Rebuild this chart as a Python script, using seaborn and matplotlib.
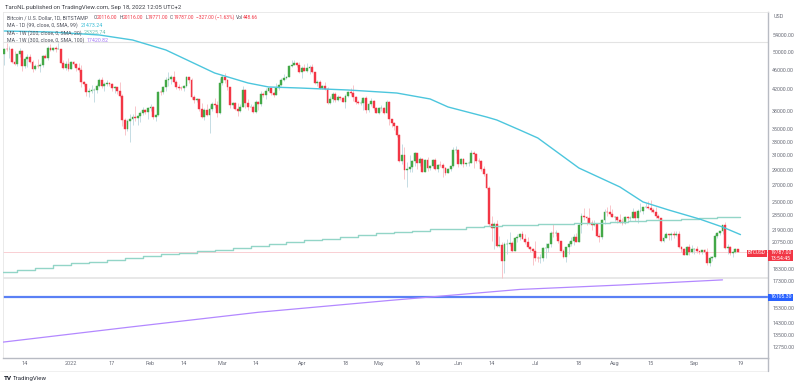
import numpy as np
import pandas as pd
import matplotlib
matplotlib.use("Agg")
import matplotlib.pyplot as plt
from matplotlib.patches import Rectangle
from matplotlib.ticker import NullLocator
import seaborn as sns

# ---------------- data ----------------
start_date = "2021-12-06"
first_open = 49400

close = [
    # Dec 2021 (6..31)
    50580, 50500, 50600, 47600, 47150, 49350, 50100, 46700, 48350, 48850, 47650, 46200, 46850,
    46700, 46900, 48950, 48600, 50800, 50400, 50800, 50700, 50700, 47550, 46450, 47150, 46200,
    # Jan 2022
    47700, 47300, 46450, 45850, 43450, 43100, 41550, 41700, 41850, 41850, 42750, 43900, 42600,
    43100, 43200, 43100, 42200, 42400, 41700, 40700, 36450, 35050, 36300, 36650, 36950, 36850,
    37200, 37700, 38150, 37900, 38500,
    # Feb
    38700, 36900, 37300, 41550, 41400, 42400, 43850, 44050, 44400, 43550, 42400, 42250, 42200,
    42600, 44550, 43900, 40550, 40000, 40100, 38400, 37000, 38250, 37250, 38350, 39250, 39150,
    37700, 43200,
    # Mar
    44400, 43900, 42450, 39150, 39400, 38400, 37980, 38750, 41950, 39400, 38750, 38800, 37800,
    39650, 39300, 41100, 40900, 41750, 42200, 41250, 41000, 42350, 42850, 43950, 44300, 44500,
    46800, 47100, 47450, 47050, 45500,
    # Apr
    46300, 45800, 46400, 46600, 45500, 43200, 43450, 42250, 42750, 42150, 39500, 40100, 41150,
    39950, 40550, 40400, 39700, 40800, 41500, 41350, 40500, 39700, 39450, 39450, 40450, 38100,
    39250, 39750, 38600, 37650,
    # May
    38450, 38500, 37700, 39700, 36550, 36000, 35450, 34050, 30100, 31000, 28950, 29050, 29300,
    30100, 31300, 29850, 30450, 28700, 30300, 29200, 29450, 30300, 29100, 29650, 29550, 29200,
    28600, 29050, 29450, 31750, 31800,
    # Jun
    29800, 30450, 29700, 29850, 29900, 31350, 31150, 30200, 30100, 29100, 28400, 26600, 22500,
    22150, 22600, 20400, 20500, 19000, 20550, 20600, 20700, 19950, 21100, 21250, 21500, 21050,
    20750, 20300, 20100, 19950,
    # Jul
    19300, 19250, 19300, 20200, 20200, 20550, 21650, 21600, 21600, 20850, 19950, 19350, 20250,
    20600, 20850, 21200, 20800, 22450, 23400, 23250, 23150, 22700, 22450, 22600, 21300, 21250,
    22950, 23850, 23800, 23650, 23300,
    # Aug
    23300, 22950, 22800, 22650, 23300, 23200, 23200, 23800, 23150, 23950, 23950, 24400, 24450,
    24300, 24100, 23850, 23350, 23200, 20850, 21150, 21500, 21400, 21550, 21400, 21550, 20250,
    20050, 19550, 20300, 19800, 20050,
    # Sep (1..18)
    20100, 19950, 19850, 20000, 19800, 18800, 19280, 19320, 21350, 21650, 21850, 22400, 20200,
    20250, 19700, 19800, 20116, 19787,
]

high = [
    50900, 51950, 51200, 50800, 50100, 49500, 50750, 50350, 48700, 49500, 49450, 48000, 47300,
    48300, 47500, 49300, 49550, 51350, 51800, 51150, 51250, 52050, 50700, 48100, 47900, 48550,
    47900, 47950, 47550, 47500, 47050, 43750, 43150, 42300, 42800, 42250, 43100, 44350, 44450,
    43450, 43800, 43500, 43200, 42700, 42550, 43500, 41100, 36800, 36550, 37550, 37500, 38950,
    37250, 38000, 38700, 38350, 38750,
    39250, 38850, 37400, 41750, 41950, 42650, 44500, 45500, 44800, 45800, 43950, 43000, 42750,
    42850, 44750, 44550, 44200, 40950, 40450, 40150, 39450, 38450, 39200, 39000, 39700, 40300,
    39850, 44200,
    44950, 45400, 44100, 42500, 39650, 39650, 39450, 39300, 42600, 42050, 40200, 39300, 39000,
    39900, 39850, 41700, 41450, 42300, 42400, 42300, 41550, 43350, 43000, 44200, 45100, 44750,
    46900, 48200, 48100, 47700, 47600,
    46700, 47200, 47450, 46900, 47150, 45500, 43900, 43950, 42800, 43400, 42400, 40700, 41550,
    41500, 40850, 40700, 40600, 41100, 41750, 42200, 42950, 40800, 39950, 39900, 40600, 40800,
    39450, 40350, 39950, 38800,
    38650, 39150, 38650, 39950, 39800, 36650, 36150, 35500, 34250, 32650, 32150, 30000, 31000,
    30300, 31400, 31300, 30750, 30650, 30500, 30750, 29600, 30450, 30650, 29800, 30200, 29850,
    29350, 29200, 29500, 32200, 32350,
    31950, 30650, 30650, 29950, 30150, 31750, 31550, 31300, 30650, 30350, 29450, 28550, 26900,
    23350, 22800, 22950, 21350, 20800, 20800, 21000, 21750, 20850, 21200, 21500, 21600, 21850,
    21500, 21200, 20400, 20150,
    20850, 19450, 19650, 20300, 20700, 20650, 21800, 22500, 21950, 21600, 20850, 20050, 20300,
    20850, 21200, 21550, 21650, 22700, 23750, 24250, 23450, 24250, 23000, 22950, 22650, 21650,
    23100, 24200, 24450, 24650, 24150,
    23450, 23450, 23650, 23200, 23450, 23350, 23400, 24250, 23900, 24200, 24900, 24450, 24850,
    25050, 25200, 24250, 24450, 23600, 23200, 21400, 21700, 21500, 21700, 21850, 21800, 21850,
    20350, 20150, 20400, 20550, 20450,
    20200, 20400, 19950, 20000, 20050, 20150, 19450, 19450, 21500, 21750, 21850, 22450, 22800,
    20550, 20350, 19900, 20150, 20116,
]

low = [
    47100, 50050, 48600, 47350, 46900, 46800, 48700, 45700, 46300, 46550, 47550, 45500, 45950,
    46450, 45600, 46650, 48450, 48100, 50200, 50200, 49950, 50500, 47350, 46100, 46000, 45700,
    46200, 46700, 45700, 45500, 42500, 42600, 40700, 40550, 41250, 39700, 41300, 42500, 42300,
    41750, 42600, 42600, 41600, 41300, 41100, 40600, 35500, 34000, 34650, 32950, 35700, 36300,
    35550, 36200, 37300, 37400, 36650,
    38050, 36600, 36250, 37100, 40950, 41150, 41700, 42700, 43150, 43200, 42000, 41800, 41900,
    41600, 42450, 43350, 40100, 39500, 39650, 38050, 36800, 36400, 37100, 34350, 38050, 38600,
    37050, 37450,
    42850, 43350, 41850, 38600, 38600, 38100, 37200, 37900, 38650, 38550, 38250, 38700, 37600,
    37600, 38150, 38900, 40550, 40200, 41550, 40950, 40550, 40900, 41800, 42600, 43600, 44100,
    44400, 46650, 46950, 46600, 45200,
    44250, 45650, 45550, 45150, 45400, 43100, 42750, 42150, 42150, 41900, 39200, 39250, 39550,
    39550, 39800, 40000, 39550, 38550, 40550, 40900, 39850, 39200, 39300, 39000, 38200, 37700,
    37850, 38900, 38200, 37600,
    37400, 38050, 37550, 37700, 35600, 35300, 34800, 33700, 30050, 29750, 27700, 26700, 28700,
    28650, 29500, 29100, 29450, 28650, 28700, 28750, 28950, 29250, 28900, 28650, 29300, 28050,
    28250, 28500, 28850, 29300, 31250,
    29350, 29600, 29350, 29500, 29500, 29850, 29250, 29900, 29950, 28850, 28150, 26550, 22300,
    20850, 20100, 20250, 20300, 17600, 17950, 19650, 20350, 19800, 19900, 20750, 20950, 21000,
    20550, 20200, 19850, 18650,
    19000, 18950, 18800, 19050, 19300, 19800, 20250, 21200, 21350, 20700, 19900, 19250, 18900,
    19650, 20400, 20500, 20750, 20750, 21600, 23000, 22400, 22550, 21950, 22300, 21250, 20750,
    21050, 22600, 23400, 23550, 23250,
    22850, 22700, 22700, 22450, 22600, 22950, 22850, 23150, 22900, 22700, 23850, 23600, 24300,
    24150, 23800, 23700, 23200, 23100, 20800, 20800, 21100, 20900, 20900, 21150, 21350, 20150,
    19850, 19500, 19550, 19550, 19750,
    19650, 19750, 19650, 19600, 19650, 18650, 18550, 19000, 19300, 21100, 21400, 21550, 20050,
    19650, 19550, 19350, 19750, 19771,
]

# MA - 1D (99, SMA)
ma99_dates = ["2021-12-06", "2021-12-24", "2022-01-12", "2022-01-25", "2022-02-07", "2022-02-26",
              "2022-03-11", "2022-03-19", "2022-03-31", "2022-04-19", "2022-05-08", "2022-05-21",
              "2022-05-28", "2022-06-12", "2022-06-16", "2022-06-25", "2022-07-02", "2022-07-18",
              "2022-08-03", "2022-08-12", "2022-08-22", "2022-09-03", "2022-09-12", "2022-09-19"]
ma99_vals = [55000, 54750, 54000, 52760, 50380, 45300, 43260, 42470, 42270, 41880, 41300, 40180,
             38720, 36970, 36460, 34810, 33550, 29210, 26760, 24970, 24060, 23080, 22240, 21473.24]

# MA - 1W (200, SMA) weekly steps
ma200w_dates = ["2021-12-04", "2021-12-11", "2021-12-18", "2021-12-25", "2022-01-01", "2022-01-08",
                "2022-01-15", "2022-01-22", "2022-01-29", "2022-02-05", "2022-02-12", "2022-02-19",
                "2022-02-26", "2022-03-05", "2022-03-12", "2022-03-19", "2022-03-26", "2022-04-02",
                "2022-04-09", "2022-04-16", "2022-04-23", "2022-04-30", "2022-05-07", "2022-05-14",
                "2022-05-21", "2022-05-28", "2022-06-04", "2022-06-11", "2022-06-18", "2022-06-25",
                "2022-07-02", "2022-07-09", "2022-07-16", "2022-07-23", "2022-07-30", "2022-08-06",
                "2022-08-13", "2022-08-20", "2022-08-27", "2022-09-03", "2022-09-10", "2022-09-19"]
ma200w_vals = [18070, 18240, 18430, 18640, 18840, 18920, 19120, 19300, 19460, 19630, 19750, 19940,
               20030, 20190, 20380, 20560, 20730, 20920, 21070, 21210, 21460, 21600, 21740, 21870,
               22010, 22070, 22210, 22350, 22450, 22470, 22500, 22550, 22620, 22690, 22760, 22850,
               22930, 23010, 23100, 23190, 23325.74, 23325.74]

# MA - 1W (300, SMA)
ma300w_dates = ["2021-12-05", "2022-01-24", "2022-03-15", "2022-05-05", "2022-06-25", "2022-08-03",
                "2022-09-12"]
ma300w_vals = [13060, 14010, 15000, 15840, 16670, 17010, 17420.82]

support_level = 16105.30
upper_hline = 52390
lower_hline = 17590
last_price = 19787.00

y_ticks = [54000, 50000, 46000, 42000, 38000, 35000, 33000, 31000, 29000, 27000, 25000, 23500,
           21900, 20750, 18300, 17300, 15300, 14300, 13500, 12750]
x_tick_dates = ["2021-12-14", "2022-01-01", "2022-01-17", "2022-02-01", "2022-02-14", "2022-03-01",
                "2022-03-14", "2022-04-01", "2022-04-18", "2022-05-01", "2022-05-16", "2022-06-01",
                "2022-06-14", "2022-07-01", "2022-07-18", "2022-08-01", "2022-08-15", "2022-09-01",
                "2022-09-19"]
x_tick_labels = ["14", "2022", "17", "Feb", "14", "Mar", "14", "Apr", "18", "May", "16", "Jun",
                 "14", "Jul", "18", "Aug", "15", "Sep", "19"]

# ---------------- style ----------------
sns.set_theme(style="white")
plt.rcParams["font.family"] = ["Roboto", "DejaVu Sans"]

W, H = 800, 386
REF = pd.Timestamp("2022-01-01")


def day(d):
    return (pd.to_datetime(d) - REF).days


UP = "#43a847"
DOWN = "#f23645"
UP_WICK = "#bcd7df"
DOWN_WICK = "#f8bcc1"
GRAY_TXT = "#50535e"

fig = plt.figure(figsize=(W / 100, H / 100), dpi=100)
fig.patch.set_facecolor("white")
ax = fig.add_axes([3 / W, (H - 358) / H, 765 / W, 346 / H])
ax.set_facecolor("white")
ax.set_yscale("log")
ax.set_xlim(-26.51, 271.73)
ax.set_ylim(12144, 60045)

# ---------------- candles ----------------
df = pd.DataFrame({"date": pd.date_range(start_date, periods=len(close), freq="D"),
                   "close": close, "high": high, "low": low})
df["open"] = [first_open] + close[:-1]
df["x"] = (df["date"] - REF).dt.days
up = df["close"] >= df["open"]
body_lo = df[["open", "close"]].min(axis=1)
body_hi = df[["open", "close"]].max(axis=1)
wick_cols = np.where(up, UP_WICK, DOWN_WICK)
ax.vlines(df["x"], np.minimum(df["low"], body_lo), np.maximum(df["high"], body_hi),
          colors=wick_cols, linewidth=0.6, zorder=2)
body_cols = np.where(up, UP, DOWN)
ax.bar(df["x"], body_hi - body_lo, bottom=body_lo, width=0.72, color=body_cols,
       edgecolor=body_cols, linewidth=0.3, zorder=3)

# ---------------- horizontal levels ----------------
ax.axhline(upper_hline, color="#e3e3e3", linewidth=0.8, zorder=1)
ax.axhline(lower_hline, color="#e6e6e6", linewidth=1.3, zorder=1)
ax.axhline(last_price, color="#f9cfd3", linewidth=0.7, zorder=1)
ax.axhline(support_level, color="#5a80f5", linewidth=1.6, zorder=1)

# ---------------- moving averages ----------------
ma99 = pd.DataFrame({"x": [day(d) for d in ma99_dates], "y": ma99_vals})
ma200 = pd.DataFrame({"x": [day(d) for d in ma200w_dates], "y": ma200w_vals})
ma300 = pd.DataFrame({"x": [day(d) for d in ma300w_dates], "y": ma300w_vals})
sns.lineplot(data=ma200, x="x", y="y", ax=ax, color="#93d5c7", linewidth=1.0,
             drawstyle="steps-post", zorder=4)
sns.lineplot(data=ma300, x="x", y="y", ax=ax, color="#b388ff", linewidth=0.9, zorder=4)
sns.lineplot(data=ma99, x="x", y="y", ax=ax, color="#4cc6dd", linewidth=1.0, zorder=4)

# ---------------- axes styling ----------------
ax.set_xlabel("")
ax.set_ylabel("")
ax.yaxis.tick_right()
ax.set_yticks(y_ticks)
ax.set_yticklabels([f"{v:.2f}" for v in y_ticks])
ax.yaxis.set_minor_locator(NullLocator())
ax.set_xticks([day(d) for d in x_tick_dates])
ax.set_xticklabels(x_tick_labels)
ax.tick_params(axis="y", length=0, pad=3, labelsize=3.9, labelcolor="#6a6d78")
ax.tick_params(axis="x", length=0, pad=2.5, labelsize=4.0, labelcolor="#6a6d78")
for s in ["top", "left"]:
    ax.spines[s].set_color("#e6e6e6")
    ax.spines[s].set_linewidth(0.6)
for s in ["right", "bottom"]:
    ax.spines[s].set_color("#b8bbc3")
    ax.spines[s].set_linewidth(1.0)
ax.grid(False)


# ---------------- figure texts ----------------
def fx(px):
    return px / W


def fy(py):
    return 1 - py / H


renderer = fig.canvas.get_renderer()


def chain(x_px, y_px, parts, size):
    x = x_px
    for txt, col, gap in parts:
        t = fig.text(fx(x), fy(y_px), txt, color=col, fontsize=size, va="center", ha="left",
                     zorder=10)
        bb = t.get_window_extent(renderer=renderer)
        x = bb.x1 + gap
    return x


fig.text(fx(5), fy(7), "TaroNL published on TradingView.com, Sep 18, 2022 12:05 UTC+2",
         fontsize=4.3, color="#3d3f46", va="center", ha="left")

LEG = 3.75
nx = chain(7, 17.5, [("Bitcoin / U.S. Dollar, 1D, BITSTAMP", GRAY_TXT, 5.5)], LEG)
chain(nx, 17.5, [("O", GRAY_TXT, 0.2), ("20116.00", DOWN, 1.8),
                 ("H", GRAY_TXT, 0.2), ("20116.00", DOWN, 1.8),
                 ("L", GRAY_TXT, 0.2), ("19771.00", DOWN, 1.8),
                 ("C", GRAY_TXT, 0.2), ("19787.00", DOWN, 1.8),
                 ("\u2212327.00 (\u22121.63%)", DOWN, 1.8),
                 ("Vol", GRAY_TXT, 0.2), ("448.66", DOWN, 0)], 3.5)
chain(7, 25.5, [("MA - 1D (99, close, 0, SMA, 99)", GRAY_TXT, 2.5),
                ("21473.24", "#38bcd6", 0)], LEG)
chain(7, 33, [("MA - 1W (200, close, 0, SMA, 20)", GRAY_TXT, 2.5),
              ("23325.74", "#6cc3b3", 0)], LEG)
chain(7, 40.5, [("MA - 1W (300, close, 0, SMA, 100)", GRAY_TXT, 2.5),
                ("17420.82", "#a57bf7", 0)], LEG)

fig.text(fx(774), fy(16), "USD", fontsize=3.9, color="#6a6d78", va="center", ha="left")

# price-axis labels (boxes)
fig.patches.append(Rectangle((fx(768), fy(261)), 25 / W, 11 / H, transform=fig.transFigure,
                             facecolor=DOWN, edgecolor="none", zorder=8))
fig.text(fx(771), fy(253), f"{last_price:.2f}", fontsize=3.7, color="white", va="center",
         ha="left", zorder=9)
fig.text(fx(771), fy(258.3), "13:54:45", fontsize=3.7, color="white", va="center", ha="left",
         zorder=9)
fig.patches.append(Rectangle((fx(747), fy(256.5)), 20 / W, 7 / H, transform=fig.transFigure,
                             facecolor=DOWN, edgecolor="none", zorder=8))
fig.text(fx(757), fy(253), "BTCUSD", fontsize=3.4, color="white", va="center", ha="center",
         zorder=9)
fig.patches.append(Rectangle((fx(768), fy(300.5)), 25 / W, 7 / H, transform=fig.transFigure,
                             facecolor="#2962ff", edgecolor="none", zorder=8))
fig.text(fx(771), fy(297), f"{support_level:.2f}", fontsize=3.7, color="white", va="center",
         ha="left", zorder=9)

# bottom strip and logo
fig.lines.append(plt.Line2D([0, fx(768)], [fy(371), fy(371)], transform=fig.transFigure,
                            color="#eeeeee", linewidth=0.6))
fig.lines.append(plt.Line2D([fx(768), fx(768)], [fy(358), fy(371)], transform=fig.transFigure,
                            color="#b8bbc3", linewidth=1.0))
fig.text(fx(4), fy(378.5), "TV", fontsize=4.6, color="#131722", fontweight="bold",
         va="center", ha="left")
fig.text(fx(13), fy(378.5), "TradingView", fontsize=4.4, color="#2a2e39", va="center",
         ha="left")

fig.savefig("out.png", dpi=100, facecolor="white")
